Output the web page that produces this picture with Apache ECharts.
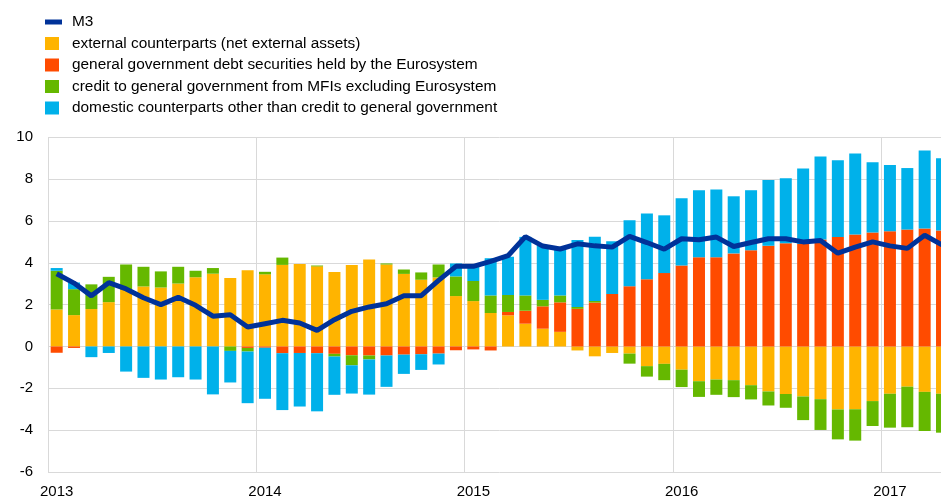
<!DOCTYPE html>
<html>
<head>
<meta charset="utf-8">
<script src="https://cdn.jsdelivr.net/npm/echarts/dist/echarts.min.js"></script>
<style>
html,body{margin:0;padding:0;background:#fff;overflow:hidden;}
#chart{width:951px;height:499px;}
</style>
</head>
<body>
<div id="chart"></div>
<script>
// Monthly categories Jan 2013 – Apr 2017
const categories = [];
for (let y = 2013; y <= 2017; y++) {
  for (let m = 1; m <= 12; m++) {
    if (y === 2017 && m > 4) break;
    categories.push(y + '-' + (m < 10 ? '0' + m : m));
  }
}

const seriesNames = [
  'M3',
  'external counterparts (net external assets)',
  'general government debt securities held by the Eurosystem',
  'credit to general government from MFIs excluding Eurosystem',
  'domestic counterparts other than credit to general government'
];

const m3 = [
  3.48, 3.03, 2.42, 3.05, 2.75, 2.33, 2.00, 2.35, 1.97, 1.45, 1.52, 0.93,
  1.09, 1.25, 1.12, 0.77, 1.28, 1.68, 1.89, 2.04, 2.43, 2.43, 3.16, 3.83,
  3.83, 4.07, 4.34, 5.25, 4.80, 4.66, 4.91, 4.81, 4.75, 5.26, 4.97, 4.65,
  5.15, 5.10, 5.23, 4.78, 4.97, 5.15, 5.15, 5.00, 5.07, 4.46, 4.75, 5.00,
  4.81, 4.69, 5.32, 4.86
];

const external = [
  1.77, 1.50, 1.79, 2.12, 2.71, 2.87, 2.82, 3.01, 3.31, 3.48, 3.27, 3.65,
  3.45, 3.90, 3.94, 3.83, 3.56, 3.90, 4.16, 3.92, 3.47, 3.19, 3.30, 2.41,
  2.17, 1.60, 1.49, 1.09, 0.85, 0.70, -0.19, -0.47, -0.31, -0.34, -0.94, -0.83,
  -1.11, -1.66, -1.58, -1.61, -1.85, -2.15, -2.27, -2.39, -2.52, -3.01, -3.00, -2.61,
  -2.26, -1.92, -2.17, -2.26
];

const govDebtEurosystem = [
  -0.30, -0.07, 0, 0, 0, 0, 0, 0, 0, 0, 0, -0.07,
  -0.06, -0.32, -0.31, -0.32, -0.35, -0.42, -0.43, -0.43, -0.39, -0.37, -0.34, -0.18,
  -0.14, -0.19, 0.16, 0.62, 1.07, 1.41, 1.80, 2.10, 2.51, 2.88, 3.22, 3.51,
  3.87, 4.26, 4.26, 4.45, 4.60, 4.81, 4.94, 4.90, 5.12, 5.23, 5.35, 5.45,
  5.51, 5.59, 5.64, 5.54
];

const creditGovMFI = [
  1.85, 1.24, 1.18, 1.21, 1.21, 0.94, 0.77, 0.80, 0.31, 0.27, -0.21, -0.17,
  0.12, 0.35, 0, 0.04, -0.13, -0.48, -0.19, 0.05, 0.21, 0.35, 0.62, 0.94,
  0.96, 0.84, 0.81, 0.73, 0.31, 0.33, 0.09, 0.08, 0, -0.48, -0.50, -0.78,
  -0.83, -0.75, -0.73, -0.81, -0.68, -0.67, -0.66, -1.13, -1.47, -1.43, -1.50, -1.19,
  -1.62, -1.94, -1.87, -1.86
];

const domesticOther = [
  0.13, 0.32, -0.51, -0.31, -1.20, -1.50, -1.58, -1.47, -1.58, -2.29, -1.51, -2.47,
  -2.44, -2.72, -2.56, -2.78, -1.83, -1.35, -1.68, -1.50, -0.92, -0.75, -0.52, 0.62,
  0.76, 1.78, 1.83, 2.80, 2.59, 2.25, 3.20, 3.06, 2.52, 3.16, 3.14, 2.76,
  3.22, 3.21, 3.25, 2.73, 2.87, 3.15, 3.10, 3.61, 3.96, 3.67, 3.88, 3.36,
  3.16, 2.94, 3.73, 3.46
];

const yTicks = [-6, -4, -2, 0, 2, 4, 6, 8, 10];

const colors = {
  m3: '#003299',
  external: '#FFB400',
  gov: '#FF4B00',
  credit: '#65B800',
  domestic: '#00B1EA'
};

const FONT = '"Liberation Sans", Arial, sans-serif';

const chart = echarts.init(document.getElementById('chart'), null, {renderer: 'canvas'});

function barSeries(name, data, color) {
  return {
    name: name,
    type: 'bar',
    stack: 'total',
    data: data,
    barWidth: 12,
    itemStyle: {color: color},
    z: 2
  };
}

chart.setOption({
  animation: false,
  backgroundColor: '#fff',
  grid: {left: 48, right: 0.3, top: 137.3, bottom: 26.3},
  legend: [
    {
      orient: 'vertical',
      left: 45,
      top: 14,
      padding: 0,
      itemWidth: 17,
      itemHeight: 5,
      itemGap: 5.5,
      selectedMode: false,
      data: [{name: seriesNames[0], icon: 'rect'}],
      textStyle: {fontFamily: FONT, fontSize: 15.4, color: '#000', lineHeight: 16, padding: [0, 0, 0, 5]}
    },
    {
      orient: 'vertical',
      left: 45,
      top: 35.5,
      padding: 0,
      itemWidth: 14,
      itemHeight: 13,
      itemGap: 5.5,
      selectedMode: false,
      data: seriesNames.slice(1).map(n => ({name: n, icon: 'rect'})),
      textStyle: {fontFamily: FONT, fontSize: 15.4, color: '#000', lineHeight: 16, padding: [0, 0, 0, 8]}
    }
  ],
  xAxis: {
    type: 'category',
    data: categories,
    boundaryGap: true,
    axisLine: {show: false},
    axisTick: {show: false},
    axisLabel: {
      interval: (i) => i % 12 === 0,
      formatter: (v) => v.slice(0, 4),
      fontFamily: FONT,
      fontSize: 15,
      color: '#000',
      margin: 12
    },
    splitLine: {
      show: true,
      interval: (i) => i % 12 === 0,
      lineStyle: {color: '#d9d9d9', width: 1}
    }
  },
  yAxis: {
    type: 'value',
    min: yTicks[0],
    max: yTicks[yTicks.length - 1],
    interval: 2,
    axisLine: {show: false},
    axisTick: {show: false},
    axisLabel: {fontFamily: FONT, fontSize: 15, color: '#000', margin: 15},
    splitLine: {lineStyle: {color: '#d9d9d9', width: 1}}
  },
  series: [
    barSeries(seriesNames[1], external, colors.external),
    barSeries(seriesNames[2], govDebtEurosystem, colors.gov),
    barSeries(seriesNames[3], creditGovMFI, colors.credit),
    barSeries(seriesNames[4], domesticOther, colors.domestic),
    {
      name: seriesNames[0],
      type: 'line',
      data: m3,
      symbol: 'none',
      lineStyle: {color: colors.m3, width: 5},
      itemStyle: {color: colors.m3},
      z: 5
    }
  ]
});
</script>
</body>
</html>
